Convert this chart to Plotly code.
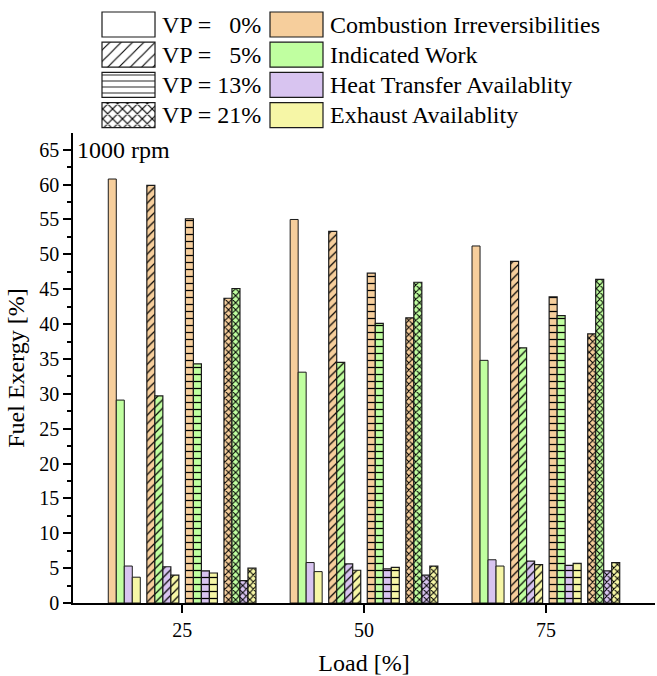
import plotly.graph_objects as go

# ---------------- data ----------------
loads = [25, 50, 75]
vp_labels = ["VP = \u00a0\u00a00%", "VP = \u00a0\u00a05%", "VP = 13%", "VP = 21%"]
vp_patterns = ["", "/", "-", "x"]
components = ["Combustion Irreversibilities", "Indicated Work",
              "Heat Transfer Availablity", "Exhaust Availablity"]
comp_colors = ["#F6CE9C", "#C0FFA0", "#D8C4F0", "#F6F6A6"]

# rows: VP = 0, 5, 13, 21 % ; columns: load 25, 50, 75 %
comb_irr = [[60.8, 55.0, 51.2], [59.9, 53.3, 49.0], [55.1, 47.3, 43.9], [43.7, 40.9, 38.6]]
ind_work = [[29.1, 33.1, 34.8], [29.7, 34.5, 36.6], [34.3, 40.1, 41.2], [45.1, 46.0, 46.4]]
heat_tr = [[5.3, 5.8, 6.2], [5.2, 5.6, 6.0], [4.6, 4.9, 5.4], [3.2, 4.0, 4.6]]
exhaust = [[3.7, 4.5, 5.3], [4.0, 4.7, 5.5], [4.3, 5.1, 5.7], [5.0, 5.3, 5.8]]
series = [comb_irr, ind_work, heat_tr, exhaust]

y_ticks = list(range(0, 70, 5))
x_ticks = [25, 50, 75]

FONT = "Liberation Serif"
LINE = "#1a1a1a"

# ---------------- layout parameters ----------------
bar_w = 1.1
sub_stride = 5.3
group_half = (3 * sub_stride + 4 * bar_w) / 2
pat_size = {"": 6, "/": 6, "-": 7, "x": 5}
pat_solid = {"": 0.2, "/": 0.2, "-": 0.18, "x": 0.38}

fig = go.Figure()

for i, pat in enumerate(vp_patterns):
    for j, vals in enumerate(series):
        fig.add_trace(go.Bar(
            x=loads, y=vals[i], width=bar_w,
            offset=-group_half + i * sub_stride + j * bar_w,
            marker=dict(color=comp_colors[j],
                        line=dict(color=LINE, width=1.2 if pat else 1),
                        pattern=dict(shape=pat, fgcolor="black", bgcolor=comp_colors[j],
                                     size=pat_size[pat], solidity=pat_solid[pat],
                                     fillmode="replace")),
            showlegend=False, hoverinfo="skip", xaxis="x", yaxis="y"))

# ---------------- custom legend (boxes on an auxiliary axis) ----------------
rows = list(range(4))
box_w = 0.3155
box_h = 0.828
fig.add_trace(go.Bar(
    orientation="h", y=rows, x=[box_w] * 4, base=[0 - box_w / 2] * 4, width=box_h,
    marker=dict(color="white", line=dict(color=LINE, width=1.2),
                pattern=dict(shape=vp_patterns, fgcolor="black", bgcolor="white",
                             size=[8, 8, 6, 7], solidity=[0.12, 0.14, 0.14, 0.3],
                             fillmode="replace")),
    showlegend=False, hoverinfo="skip", xaxis="x2", yaxis="y2"))
fig.add_trace(go.Bar(
    orientation="h", y=rows, x=[box_w] * 4, base=[1 - box_w / 2] * 4, width=box_h,
    marker=dict(color=comp_colors, line=dict(color=LINE, width=1.2)),
    showlegend=False, hoverinfo="skip", xaxis="x2", yaxis="y2"))

annotations = []
for col, labels in enumerate([vp_labels, components]):
    for r, lab in enumerate(labels):
        annotations.append(dict(x=col + 0.19, y=r, xref="x2", yref="y2", text=lab,
                                showarrow=False, xanchor="left", yanchor="middle",
                                font=dict(family=FONT, size=24, color="black")))
annotations.append(dict(x=10.3, y=65, xref="x", yref="y", text="1000 rpm", showarrow=False,
                        xanchor="left", yanchor="middle",
                        font=dict(family=FONT, size=24, color="black")))

main_top = (603 - 133) / 603
axis_common = dict(showgrid=False, zeroline=False, linecolor="black", linewidth=1.5,
                   tickcolor="black", tickwidth=1.5)
tick_font = dict(family=FONT, size=20, color="black")
title_font = dict(family=FONT, size=24, color="black")

fig.update_layout(
    width=657, height=676,
    margin=dict(l=73, r=2, t=0, b=73),
    paper_bgcolor="white", plot_bgcolor="white",
    barmode="overlay",
    font=dict(family=FONT, size=20, color="black"),
    annotations=annotations,
    xaxis=dict(domain=[0, 1], range=[10, 90], tickvals=x_ticks, ticks="outside", ticklen=8,
               showline=True, anchor="y",
               title=dict(text="Load [%]", font=title_font, standoff=16),
               tickfont=tick_font, **axis_common),
    xaxis3=dict(overlaying="x", side="top", range=[10, 90], tickvals=x_ticks, ticks="inside",
                ticklen=7, showticklabels=False, showline=True, anchor="y", **axis_common),
    yaxis=dict(domain=[0, main_top], range=[0, 67.4], tickvals=y_ticks, ticks="outside",
               ticklen=8, showline=True, anchor="x",
               minor=dict(dtick=2.5, ticks="outside", ticklen=4, tickcolor="black", tickwidth=1.5),
               title=dict(text="Fuel Exergy [%]", font=title_font, standoff=8),
               tickfont=tick_font, **axis_common),
    yaxis3=dict(overlaying="y", side="right", range=[0, 67.4], tickvals=y_ticks, ticks="inside",
                ticklen=8, showticklabels=False, showline=True, anchor="x",
                minor=dict(dtick=2.5, ticks="inside", ticklen=4, tickcolor="black", tickwidth=1.5),
                **axis_common),
    xaxis2=dict(domain=[0, 1], range=[-0.3304, 3.134], visible=False, anchor="y2",
                fixedrange=True),
    yaxis2=dict(domain=[(603 - 130) / 603, 1], range=[3.4934, -0.8113], visible=False,
                anchor="x2", fixedrange=True),
)

fig.write_html("out.html")
